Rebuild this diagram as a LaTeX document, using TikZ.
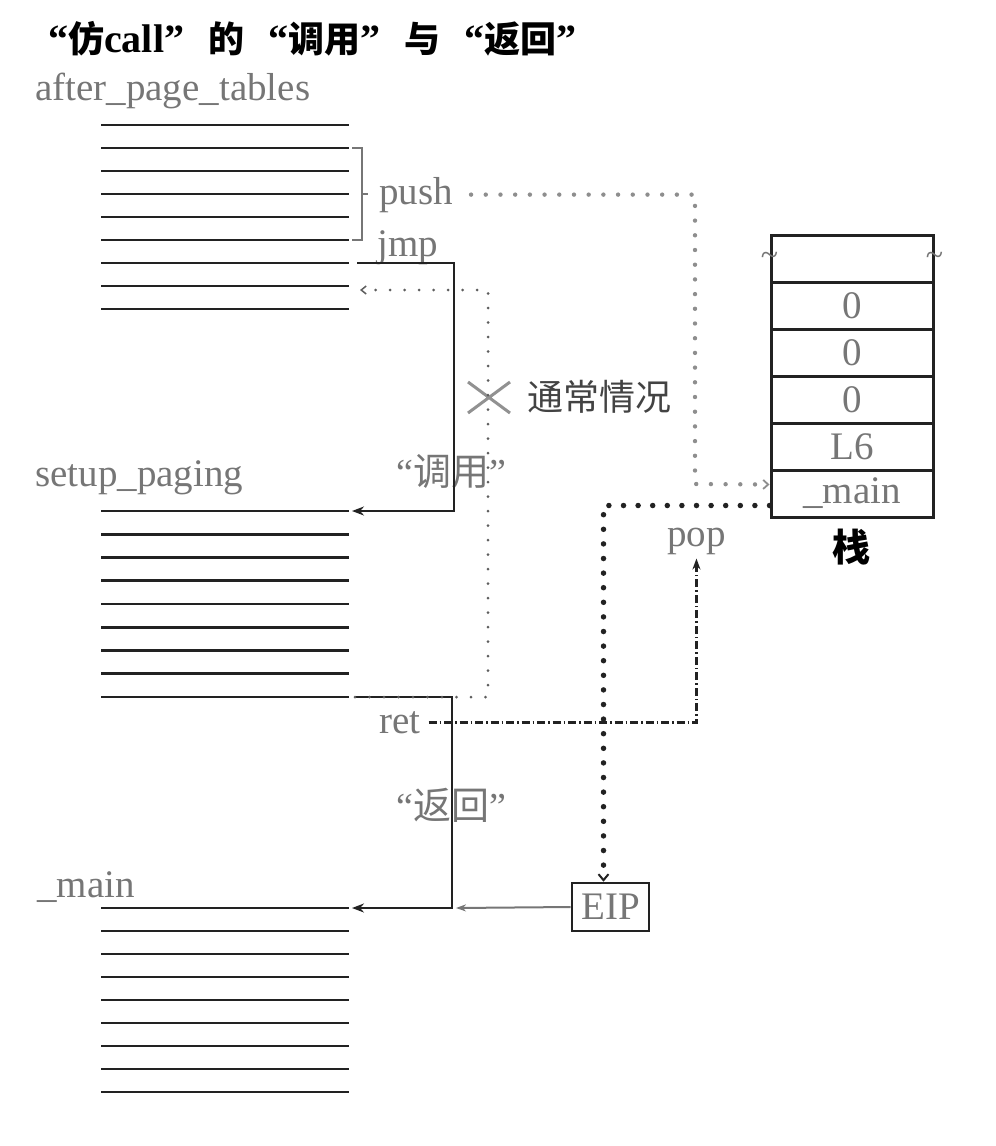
\documentclass[tikz,border=0pt]{standalone}
\usepackage{fontspec}
\setmainfont{Liberation Serif}
\newfontfamily\cjk{Noto Sans CJK SC}
\usetikzlibrary{arrows.meta}
\definecolor{labgray}{HTML}{767676}
\definecolor{ink}{HTML}{222222}
\definecolor{pushgray}{HTML}{8E8E8E}
\definecolor{normgray}{HTML}{5E5E5E}
\newcommand{\tcj}[1]{{\cjk\fontsize{36}{40}\selectfont #1}}
\newcommand{\lcj}[1]{{\cjk #1}}
\begin{document}
\begin{tikzpicture}[x=1pt,y=-1pt,
  lab/.style={text=labgray, inner sep=0pt, font=\fontsize{39}{40}\selectfont, anchor=base west},
  cjklab/.style={text=labgray, inner sep=0pt, font=\fontsize{38}{40}\selectfont, anchor=west},
  rowline/.style={line width=2.8pt, draw=ink},
  jumpline/.style={line width=2.6pt, draw=ink, -{Stealth[length=12pt,width=9pt]}},
  normdot/.style={line width=3pt, draw=normgray, dash pattern=on 0pt off 14.5pt, line cap=round, -{Straight Barb[length=5pt,width=8pt,line width=1.5pt]}},
  pushdot/.style={line width=4.4pt, draw=pushgray, dash pattern=on 0pt off 14.7pt, line cap=round, -{Straight Barb[length=5pt,width=9pt,line width=1.8pt]}},
  eipdot/.style={line width=5.5pt, draw=ink, dash pattern=on 0pt off 14.6pt, line cap=round, -{Straight Barb[length=6pt,width=10pt,line width=2pt]}},
  retdash/.style={line width=2.6pt, draw=ink, dash pattern=on 8pt off 3pt on 1.5pt off 3pt, -{Stealth[length=11pt,width=8pt]}},
  cell/.style={draw=ink, line width=3pt, minimum width=162pt, minimum height=47pt, inner sep=0pt, text=labgray, font=\fontsize{39}{40}\selectfont},
  bracket/.style={draw=labgray, line width=2pt},
]
\useasboundingbox (0,0) rectangle (996,1146);

% title
\node[anchor=base west, inner sep=0pt, font=\bfseries\fontsize{40}{44}\selectfont] (title) at (48,52)
  {“\tcj{仿}call”\hspace{24pt}\tcj{的}\hspace{24pt}“\tcj{调用}”\hspace{24pt}\tcj{与}\hspace{24pt}“\tcj{返回}”};

% labels of the code blocks
\node[lab] (apt) at (35,100) {after\_page\_tables};
\node[lab] (sp) at (35,486) {setup\_paging};
\node[lab] (mn) at (37,897) {\_main};

% code lines
\foreach \y [count=\i] in {125,148,171,194,217,240,263,286,309}
  {\draw[rowline] (101,\y) -- (349,\y); \coordinate (A\i) at (349,\y);}
\foreach \y [count=\i] in {511,534.25,557.5,580.75,604,627.25,650.5,673.75,697}
  {\draw[rowline] (101,\y) -- (349,\y); \coordinate (B\i) at (349,\y);}
\foreach \y [count=\i] in {908,931,954,977,1000,1023,1046,1069,1092}
  {\draw[rowline] (101,\y) -- (349,\y); \coordinate (C\i) at (349,\y);}

% bracket and push
\draw[bracket] ([xshift=3pt]A2) -- ([xshift=13pt]A2) -- ([xshift=13pt]A6) -- ([xshift=3pt]A6);
\draw[bracket] ([xshift=13pt]A4) -- ([xshift=19pt]A4);
\node[lab] (push) at (379,204) {push};
\node[lab] (jmp) at (377,256) {jmp};
\node[lab] (ret) at (379,733) {ret};
\node[lab] (pop) at (667,546) {pop};

% stack
\foreach \t [count=\i from 0] in {{},0,0,0,L6,\_main}
  \node[cell] (s\i) at (852,258.5+47*\i) {\t};
\node[text=labgray, inner sep=0pt, font=\fontsize{32}{32}\selectfont] (tl) at (s0.west |- 0,259) {\textasciitilde};
\node[text=labgray, inner sep=0pt, font=\fontsize{32}{32}\selectfont] (tr) at (s0.east |- 0,259) {\textasciitilde};
\node[inner sep=0pt, font={\cjk\bfseries\fontsize{38}{40}\selectfont}] (zhan) at (851,547) {栈};

% EIP
\node[draw=ink, line width=2.6pt, minimum width=77pt, minimum height=48pt, inner sep=0pt, text=labgray, font=\fontsize{39}{40}\selectfont] (eip) at (610.5,907) {EIP};

% call labels
\node[cjklab] (call) at (396,472) {“\lcj{调用}”};
\node[cjklab] (back) at (396,805) {“\lcj{返回}”};

% normal case mark
\draw[labgray!80, line width=3pt] (468,382) -- (510,413) (468,413) -- (510,382);
\node[anchor=west, inner sep=0pt, text=ink!85, font={\cjk\fontsize{36}{40}\selectfont}] (norm) at (527,397) {通常情况};

% connectors
\coordinate (jmpc) at ([xshift=105pt]B1);
\draw[jumpline] ([xshift=8pt]A7) -| (jmpc) -- ([xshift=3pt]B1);
\coordinate (retc) at ([xshift=103pt]C1);
\draw[jumpline] ([xshift=6pt]B9) -| (retc) -- ([xshift=3pt]C1);
\coordinate (nrc) at (488,290);
\coordinate (nrend) at (360,290);
\draw[normdot] ([xshift=6pt]B9) -| (nrc) -- (nrend);
\coordinate (pushc) at (695,484);
\draw[pushdot] ([xshift=18pt]push.east) -| (pushc) -- ([yshift=9pt]s5.west);
\draw[eipdot] ([yshift=-12pt]s5.west) -| ([xshift=-7pt]eip.north);
\draw[retdash] ([xshift=8pt]ret.east) -| ([yshift=-4pt]pop.south);
\coordinate (eiptip) at ([xshift=107pt]C1);
\draw[labgray, line width=2pt, -{Stealth[length=10pt,width=7pt]}] (eip.west) -- (eiptip);
\end{tikzpicture}
\end{document}
